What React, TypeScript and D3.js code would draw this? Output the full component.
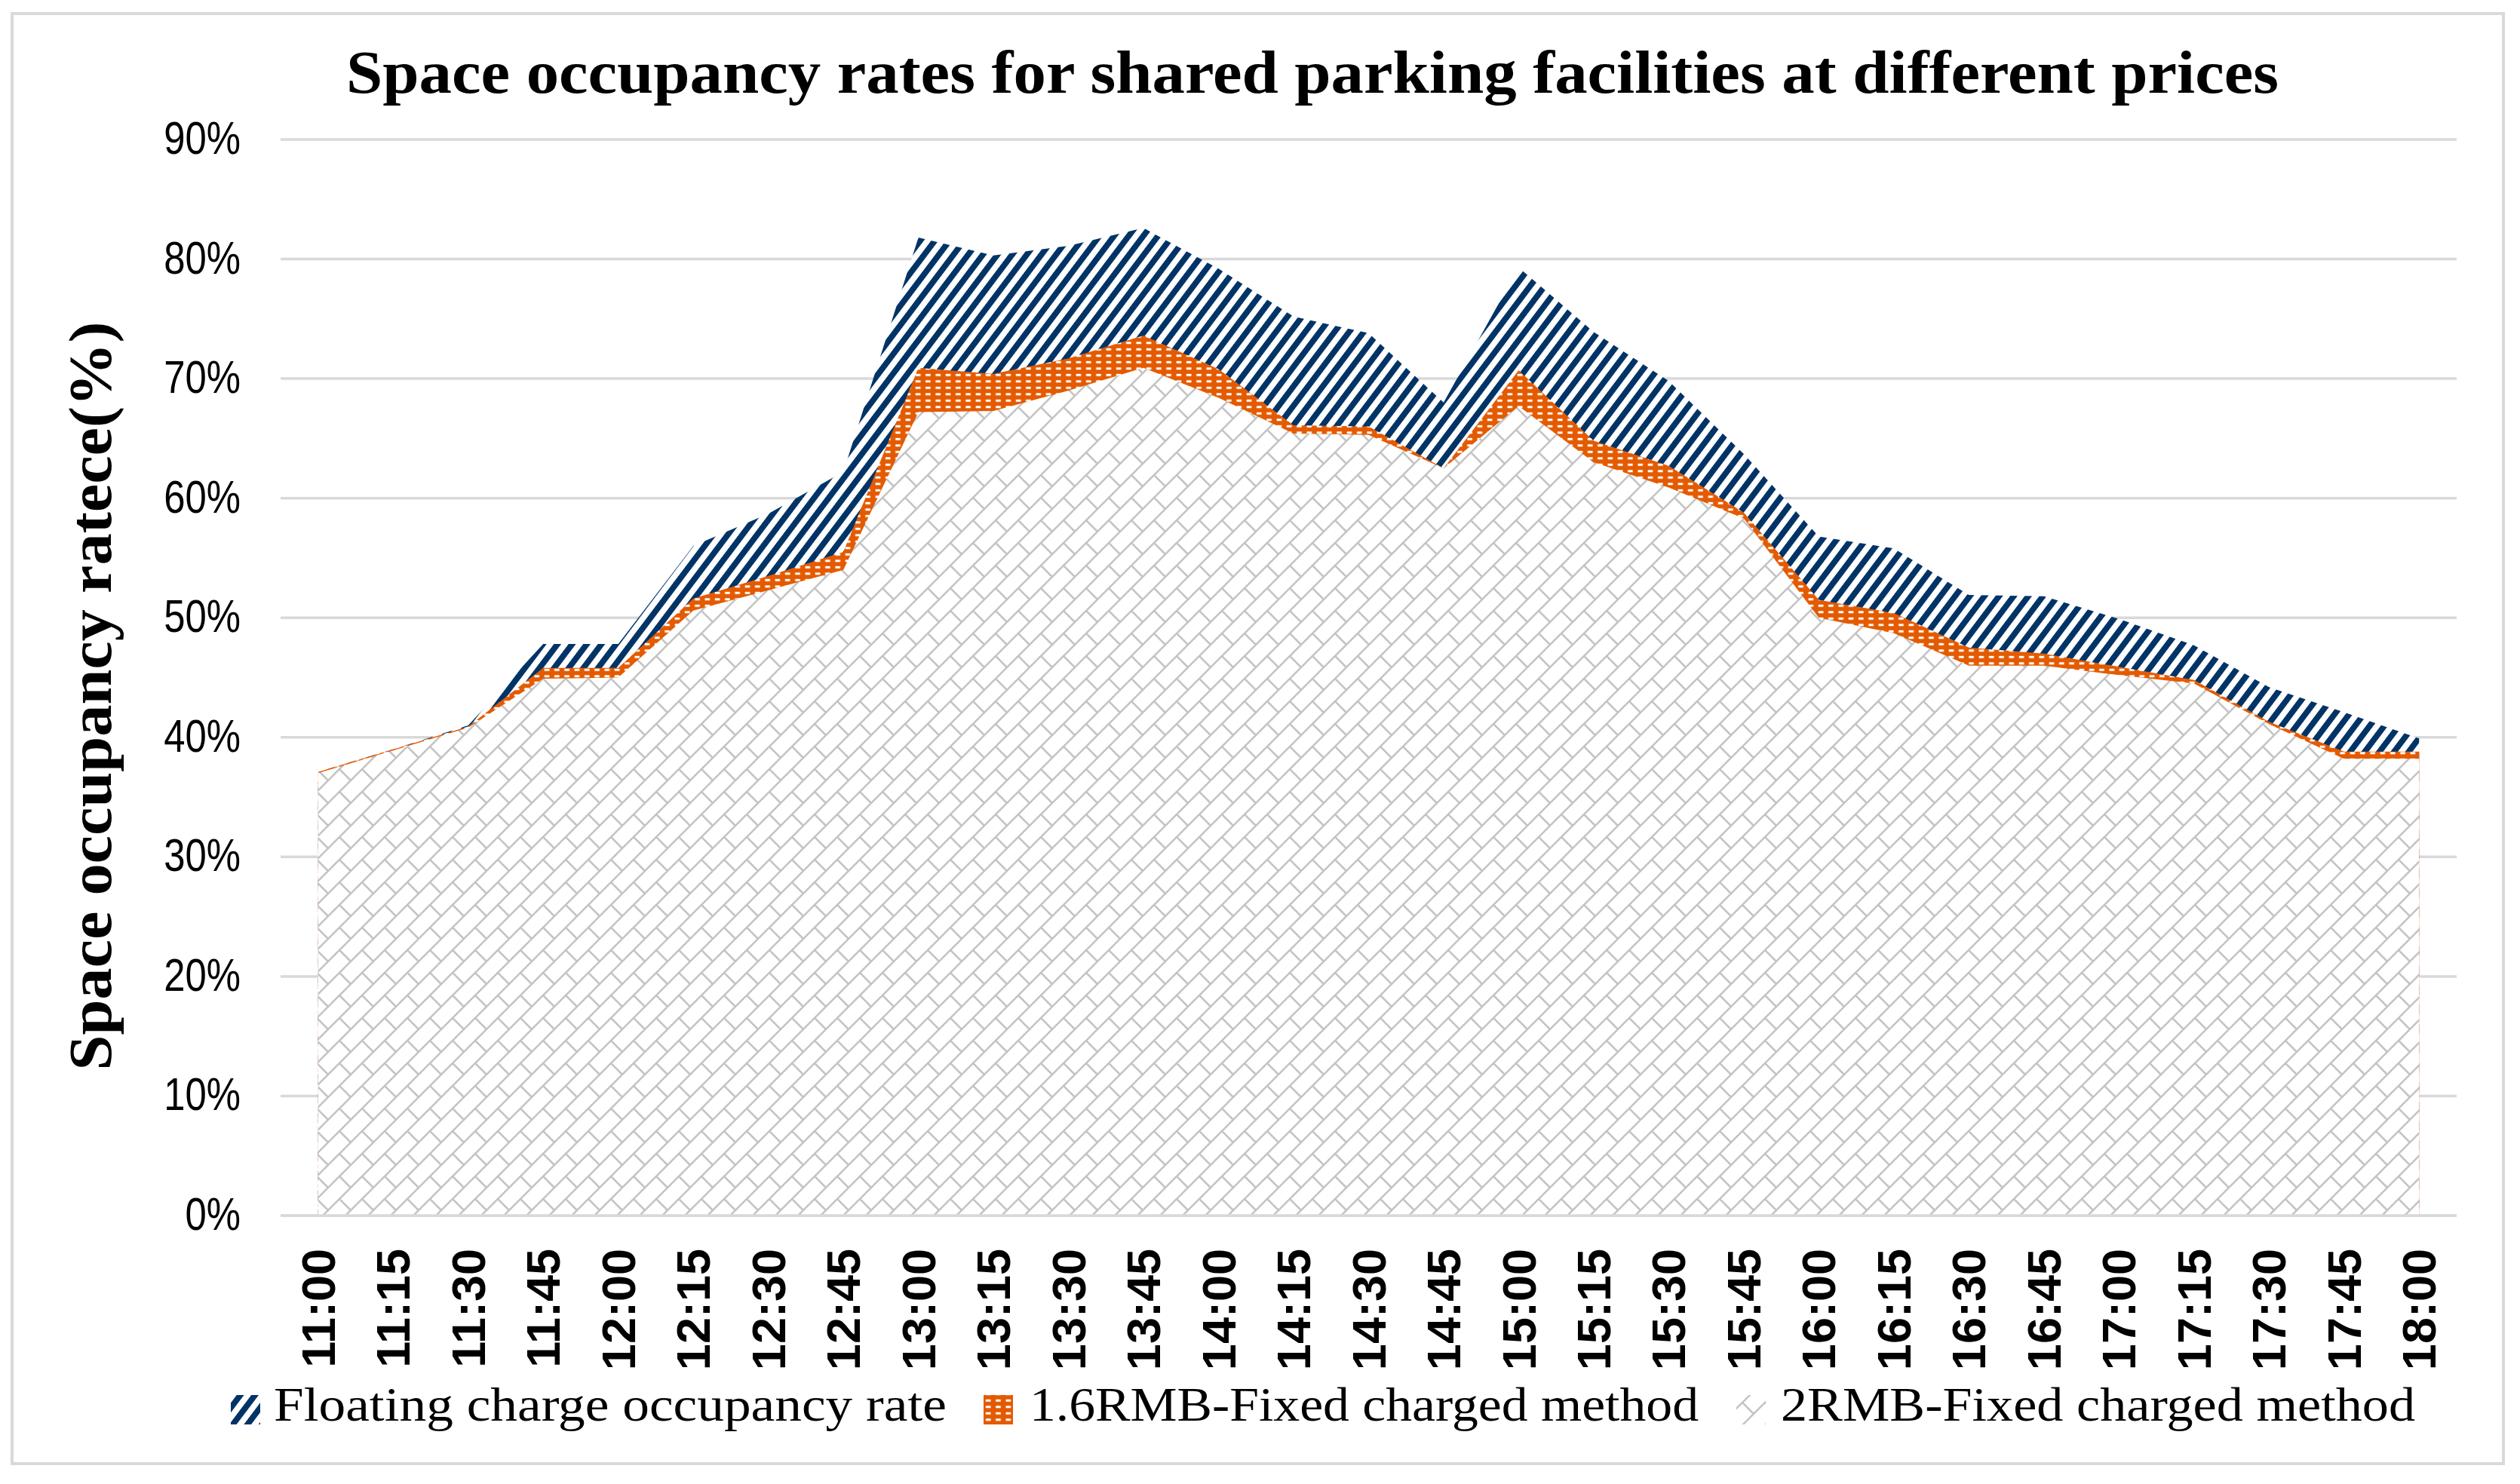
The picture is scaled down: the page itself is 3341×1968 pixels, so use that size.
import React from "react";
import * as d3 from "d3";

const times = [
  "11:00","11:15","11:30","11:45","12:00","12:15","12:30","12:45",
  "13:00","13:15","13:30","13:45","14:00","14:15","14:30","14:45",
  "15:00","15:15","15:30","15:45","16:00","16:15","16:30","16:45",
  "17:00","17:15","17:30","17:45","18:00",
];

// Floating charge occupancy rate (%)
const floating = [
  37.1, 39.0, 41.0, 47.8, 47.8, 56.0, 58.7, 62.2,
  81.8, 80.3, 81.1, 82.6, 79.2, 75.2, 73.8, 68.0,
  79.3, 73.9, 69.8, 63.7, 56.8, 55.8, 51.9, 51.8,
  49.9, 47.7, 44.2, 42.1, 39.9,
];

// 1.6RMB-Fixed charged method (%)
const fixed16 = [
  37.1, 39.0, 40.9, 45.8, 45.8, 51.6, 53.5, 55.5,
  70.9, 70.4, 71.7, 73.6, 70.8, 66.1, 66.0, 62.5,
  70.7, 64.8, 62.7, 58.8, 51.5, 50.4, 47.5, 47.0,
  45.9, 44.8, 41.3, 38.8, 38.8,
];

// 2RMB-Fixed charged method (%)
const fixed2 = [
  37.0, 38.9, 40.8, 44.9, 45.0, 50.6, 52.3, 54.0,
  67.2, 67.3, 69.0, 70.9, 68.4, 65.4, 65.3, 62.5,
  67.7, 63.0, 60.9, 58.3, 50.0, 48.7, 46.0, 46.0,
  45.2, 44.5, 41.1, 38.2, 38.2,
];

const yTicks = [0, 10, 20, 30, 40, 50, 60, 70, 80, 90];

const seriesNames = [
  "Floating charge occupancy rate",
  "1.6RMB-Fixed charged method",
  "2RMB-Fixed charged method",
];

const W = 3341;
const H = 1968;

const NAVY = "#003366";
const ORANGE = "#e45a00";
const GRAYPAT = "#c4c4c4";
const GRID = "#d9d9d9";

export default function App() {
  const x = d3.scalePoint<string>().domain(times).range([372, 3257]).padding(0.5);
  const y = d3.scaleLinear().domain([0, 90]).range([1612, 185]);

  const area = d3
    .area<number>()
    .x((_, i) => x(times[i]) as number)
    .y0(y(0))
    .y1((d) => y(d));

  const fmt = (v: number) => `${v}%`;
  const narrowLen = (s: string) => {
    let em = 0;
    for (const c of s) em += c === "%" ? 0.729 : 0.456;
    return em * 62;
  };

  const serif = "'Liberation Serif', 'DejaVu Serif', serif";
  const sans = "'Liberation Sans', Arial, sans-serif";
  const narrow = "'Liberation Sans Narrow', 'Arial Narrow', 'Liberation Sans', sans-serif";

  const legend = [
    { icon: 306, text: 363, len: 892, fill: "url(#pNavy)" },
    { icon: 1304, text: 1365, len: 887, fill: "url(#pOrange)" },
    { icon: 2302, text: 2361, len: 841, fill: "url(#pGray)" },
  ];

  return (
    <svg
      width={W}
      height={H}
      viewBox={`0 0 ${W} ${H}`}
      style={{ position: "absolute", left: 0, top: 0, background: "#fff" }}
    >
      <defs>
        <pattern
          id="pNavy"
          patternUnits="userSpaceOnUse"
          width={15.5}
          height={60}
          patternTransform="rotate(37)"
        >
          <rect x={0} y={0} width={15.5} height={60} fill="#fff" />
          <rect x={0} y={0} width={7.8} height={60} fill={NAVY} />
        </pattern>
        <pattern id="pOrange" patternUnits="userSpaceOnUse" width={13.3} height={8.5}>
          <rect x={0} y={0} width={13.3} height={8.5} fill={ORANGE} />
          <rect x={3.5} y={2.8} width={6.6} height={3} fill="#fff" />
        </pattern>
        <pattern id="pGray" patternUnits="userSpaceOnUse" width={30} height={30}>
          <rect x={0} y={0} width={30} height={30} fill="#fff" />
          <path
            d="M0,30 L30,0 M-4,4 L4,-4 M26,34 L34,26 M0,0 L15,15 M15,-15 L30,0"
            stroke={GRAYPAT}
            strokeWidth={2.6}
            fill="none"
          />
        </pattern>
      </defs>

      <rect x={0} y={0} width={W} height={H} fill="#fff" />
      <rect x={16} y={18} width={3303} height={1923} fill="none" stroke={GRID} strokeWidth={4} />

      <text
        x={1740}
        y={123}
        textAnchor="middle"
        fontFamily={serif}
        fontWeight={700}
        fontSize={80}
        textLength={2562}
        lengthAdjust="spacingAndGlyphs"
        fill="#000"
      >
        Space occupancy rates for shared parking facilities at different prices
      </text>

      {yTicks.map((t) => (
        <line
          key={`g${t}`}
          x1={372}
          x2={3257}
          y1={y(t)}
          y2={y(t)}
          stroke={GRID}
          strokeWidth={3.5}
        />
      ))}

      <path d={area(floating) || ""} fill="url(#pNavy)" />
      <path d={area(fixed16) || ""} fill="url(#pOrange)" />
      <path d={area(fixed2) || ""} fill="url(#pGray)" />

      <line x1={372} x2={3257} y1={y(0)} y2={y(0)} stroke={GRID} strokeWidth={3.5} />

      {yTicks.map((t) => (
        <text
          key={`yl${t}`}
          x={319}
          y={y(t) + 19}
          textAnchor="end"
          fontFamily={narrow}
          fontSize={62}
          textLength={narrowLen(fmt(t))}
          lengthAdjust="spacingAndGlyphs"
          fill="#000"
        >
          {fmt(t)}
        </text>
      ))}

      <text
        transform="translate(147,923) rotate(-90)"
        textAnchor="middle"
        fontFamily={serif}
        fontWeight={700}
        fontSize={80}
        textLength={993}
        lengthAdjust="spacingAndGlyphs"
        fill="#000"
      >
        Space occupancy ratece(%)
      </text>

      {times.map((t) => (
        <text
          key={`xl${t}`}
          transform={`translate(${x(t)},1656) rotate(-90)`}
          textAnchor="end"
          dy="0.35em"
          fontFamily={sans}
          fontWeight={700}
          fontSize={63}
          fill="#000"
        >
          {t}
        </text>
      ))}

      {legend.map((l, i) => (
        <g key={`lg${i}`}>
          <rect x={l.icon} y={1850} width={39} height={39} fill={l.fill} />
          <text
            x={l.text}
            y={1884}
            fontFamily={serif}
            fontSize={64}
            textLength={l.len}
            lengthAdjust="spacingAndGlyphs"
            fill="#000"
          >
            {seriesNames[i]}
          </text>
        </g>
      ))}
    </svg>
  );
}
